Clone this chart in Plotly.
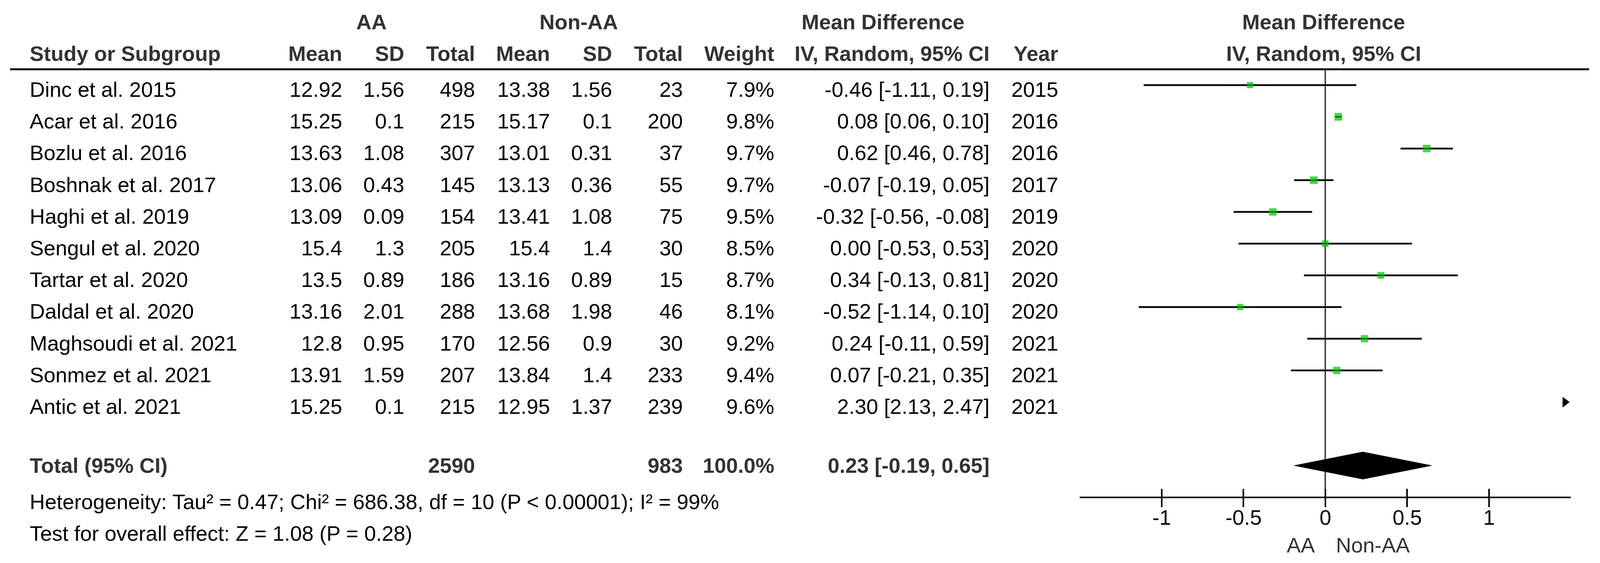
import plotly.graph_objects as go

# ---------------- data ----------------
studies = ["Dinc et al. 2015", "Acar et al. 2016", "Bozlu et al. 2016", "Boshnak et al. 2017",
           "Haghi et al. 2019", "Sengul et al. 2020", "Tartar et al. 2020", "Daldal et al. 2020",
           "Maghsoudi et al. 2021", "Sonmez et al. 2021", "Antic et al. 2021"]
aa_mean = [12.92, 15.25, 13.63, 13.06, 13.09, 15.4, 13.5, 13.16, 12.8, 13.91, 15.25]
aa_sd = [1.56, 0.1, 1.08, 0.43, 0.09, 1.3, 0.89, 2.01, 0.95, 1.59, 0.1]
aa_total = [498, 215, 307, 145, 154, 205, 186, 288, 170, 207, 215]
non_mean = [13.38, 15.17, 13.01, 13.13, 13.41, 15.4, 13.16, 13.68, 12.56, 13.84, 12.95]
non_sd = [1.56, 0.1, 0.31, 0.36, 1.08, 1.4, 0.89, 1.98, 0.9, 1.4, 1.37]
non_total = [23, 200, 37, 55, 75, 30, 15, 46, 30, 233, 239]
weight = [7.9, 9.8, 9.7, 9.7, 9.5, 8.5, 8.7, 8.1, 9.2, 9.4, 9.6]
md = [-0.46, 0.08, 0.62, -0.07, -0.32, 0.00, 0.34, -0.52, 0.24, 0.07, 2.30]
ci_lo = [-1.11, 0.06, 0.46, -0.19, -0.56, -0.53, -0.13, -1.14, -0.11, -0.21, 2.13]
ci_hi = [0.19, 0.10, 0.78, 0.05, -0.08, 0.53, 0.81, 0.10, 0.59, 0.35, 2.47]
year = [2015, 2016, 2016, 2017, 2019, 2020, 2020, 2020, 2021, 2021, 2021]

total_aa = 2590
total_non = 983
total_weight = 100.0
total_md, total_lo, total_hi = 0.23, -0.19, 0.65
heterogeneity = "Heterogeneity: Tau² = 0.47; Chi² = 686.38, df = 10 (P < 0.00001); I² = 99%"
overall = "Test for overall effect: Z = 1.08 (P = 0.28)"

tick_vals = [-1, -0.5, 0, 0.5, 1]
tick_text = ["-1", "-0.5", "0", "0.5", "1"]
favours = ["AA", "Non-AA"]

# ---------------- layout constants ----------------
REF_W = 4420            # width of the reference frame
VIEW_W = 4096           # visible browser width
BODY = 8                # default page margin
FIG_W, FIG_H = VIEW_W - 2 * BODY, 1442 - 2 * BODY
ROW0_PX, ROW_PX = 218.0 - BODY, 81.2
X_MIN, X_MAX = -1.5, 1.5
PLOT_L, PLOT_R = 2983, 4339
FONT = "Liberation Sans, Arial, sans-serif"
FS = 54
HDR = "#333333"
GREEN = "#00C000"
TOTAL_ROW = 12
AXIS_ROW = 13
TICKLABEL_ROW = 13.633
FAVOURS_ROW = 14.507
TEXT_SHIFT = -11
HSCALE = VIEW_W / REF_W


def fx(xref_px):
    return (xref_px * HSCALE - BODY) / FIG_W


rows = list(range(len(studies)))

fig = go.Figure()

# zero line
fig.add_trace(go.Scatter(x=[0, 0], y=[-0.5, AXIS_ROW], mode="lines",
                         line=dict(color="#333333", width=3.5), hoverinfo="skip"))

# CI lines (only those inside the scale)
lx, ly = [], []
for r, lo, hi in zip(rows, ci_lo, ci_hi):
    if hi < X_MIN or lo > X_MAX:
        continue
    lx += [max(lo, X_MIN), min(hi, X_MAX), None]
    ly += [r, r, None]
fig.add_trace(go.Scatter(x=lx, y=ly, mode="lines", line=dict(color="black", width=4.5),
                         hoverinfo="skip"))

# squares
inside = [X_MIN <= m <= X_MAX for m in md]
fig.add_trace(go.Scatter(x=[m for m, k in zip(md, inside) if k],
                         y=[r for r, k in zip(rows, inside) if k], mode="markers",
                         marker=dict(symbol="square",
                                     size=[2 * w for w, k in zip(weight, inside) if k],
                                     color=GREEN, line=dict(width=0)),
                         hoverinfo="skip"))

# off-scale arrows
ax_, ay_ = [], []
for r, lo in zip(rows, ci_lo):
    if lo > X_MAX:
        ax_.append(X_MAX - 0.035)
        ay_.append(r)
fig.add_trace(go.Scatter(x=ax_, y=ay_, mode="markers",
                         marker=dict(symbol="triangle-right", size=24, color="black"),
                         hoverinfo="skip"))

# diamond
DH = 0.43
fig.add_trace(go.Scatter(x=[total_lo, total_md, total_hi, total_md, total_lo],
                         y=[TOTAL_ROW, TOTAL_ROW - DH, TOTAL_ROW, TOTAL_ROW + DH, TOTAL_ROW],
                         mode="lines", fill="toself", fillcolor="black",
                         line=dict(color="black", width=1), hoverinfo="skip"))

# dummy trace for the inside-tick axis
fig.add_trace(go.Scatter(x=[None], y=[None], xaxis="x2", showlegend=False))

ann = []


def txt(xpx, row, s, anchor="right", bold=False, color="black", shift=TEXT_SHIFT):
    ann.append(dict(x=fx(xpx), xref="paper", y=row, yref="y", yshift=shift,
                    text=f"<b>{s}</b>" if bold else s, showarrow=False,
                    xanchor=anchor, yanchor="middle",
                    font=dict(family=FONT, size=FS, color=color)))


# column positions (reference px)
C_STUDY = 80
C_AA_M, C_AA_SD, C_AA_N = 947, 1119, 1314
C_NA_M, C_NA_SD, C_NA_N = 1521, 1693, 1888
C_W, C_CI, C_YEAR = 2141, 2736, 2925

# headers
txt(1026, -2, "AA", "center", True, HDR, 0)
txt(1599, -2, "Non-AA", "center", True, HDR, 0)
txt(2439, -2, "Mean Difference", "center", True, HDR, 0)
txt(3656, -2, "Mean Difference", "center", True, HDR, 0)
txt(C_STUDY, -1, "Study or Subgroup", "left", True, HDR, 0)
for xp, s in [(C_AA_M, "Mean"), (C_AA_SD, "SD"), (C_AA_N, "Total"),
              (C_NA_M, "Mean"), (C_NA_SD, "SD"), (C_NA_N, "Total"),
              (C_W, "Weight"), (C_CI, "IV, Random, 95% CI"), (C_YEAR, "Year")]:
    txt(xp, -1, s, "right", True, HDR, 0)
txt(3656, -1, "IV, Random, 95% CI", "center", True, HDR, 0)

# study rows
for i in rows:
    txt(C_STUDY, i, studies[i], "left")
    txt(C_AA_M, i, str(aa_mean[i]))
    txt(C_AA_SD, i, str(aa_sd[i]))
    txt(C_AA_N, i, str(aa_total[i]))
    txt(C_NA_M, i, str(non_mean[i]))
    txt(C_NA_SD, i, str(non_sd[i]))
    txt(C_NA_N, i, str(non_total[i]))
    txt(C_W, i, f"{weight[i]:.1f}%")
    txt(C_CI, i, f"{md[i]:.2f} [{ci_lo[i]:.2f}, {ci_hi[i]:.2f}]")
    txt(C_YEAR, i, str(year[i]))

# total row
txt(C_STUDY, TOTAL_ROW, "Total (95% CI)", "left", True, HDR, 0)
txt(C_AA_N, TOTAL_ROW, str(total_aa), "right", True, HDR, 0)
txt(C_NA_N, TOTAL_ROW, str(total_non), "right", True, HDR, 0)
txt(C_W, TOTAL_ROW, f"{total_weight:.1f}%", "right", True, HDR, 0)
txt(C_CI, TOTAL_ROW, f"{total_md:.2f} [{total_lo:.2f}, {total_hi:.2f}]", "right", True, HDR, 0)

txt(C_STUDY, 13, heterogeneity, "left")
txt(C_STUDY, 14, overall, "left")

# tick labels, placed on the data axis
for v, s in zip(tick_vals, tick_text):
    ann.append(dict(x=v, xref="x", y=TICKLABEL_ROW, yref="y", text=s, showarrow=False,
                    xanchor="center", yanchor="middle",
                    font=dict(family=FONT, size=FS, color="black")))

# favours labels
ann.append(dict(x=0, xref="x", xshift=-25, y=FAVOURS_ROW, yref="y", text=favours[0],
                showarrow=False, xanchor="right", yanchor="middle",
                font=dict(family=FONT, size=FS, color=HDR)))
ann.append(dict(x=0, xref="x", xshift=25, y=FAVOURS_ROW, yref="y", text=favours[1],
                showarrow=False, xanchor="left", yanchor="middle",
                font=dict(family=FONT, size=FS, color=HDR)))

y_range = [(FIG_H - ROW0_PX) / ROW_PX, -ROW0_PX / ROW_PX]
axis_pos = 1 - (ROW0_PX + AXIS_ROW * ROW_PX) / FIG_H
dom = [fx(PLOT_L), fx(PLOT_R)]

fig.update_layout(
    width=FIG_W, height=FIG_H, margin=dict(l=0, r=0, t=0, b=0),
    paper_bgcolor="white", plot_bgcolor="white", showlegend=False,
    annotations=ann,
    shapes=[dict(type="line", xref="paper", yref="y", x0=fx(28), x1=fx(4390), y0=-0.5, y1=-0.5,
                 line=dict(color="black", width=5))],
    xaxis=dict(domain=dom, range=[X_MIN, X_MAX], anchor="free", position=axis_pos,
               showgrid=False, zeroline=False, showline=True, linecolor="black", linewidth=4,
               tickvals=tick_vals, showticklabels=False, ticks="outside", ticklen=23,
               tickwidth=4, tickcolor="black"),
    xaxis2=dict(domain=dom, range=[X_MIN, X_MAX], anchor="free", position=axis_pos,
                overlaying="x", showgrid=False, zeroline=False, showline=False,
                tickvals=tick_vals, ticks="inside", ticklen=22, tickwidth=4, tickcolor="black",
                showticklabels=False),
    yaxis=dict(domain=[0, 1], range=y_range, visible=False, showgrid=False, zeroline=False),
)

fig.write_html("out.html")
